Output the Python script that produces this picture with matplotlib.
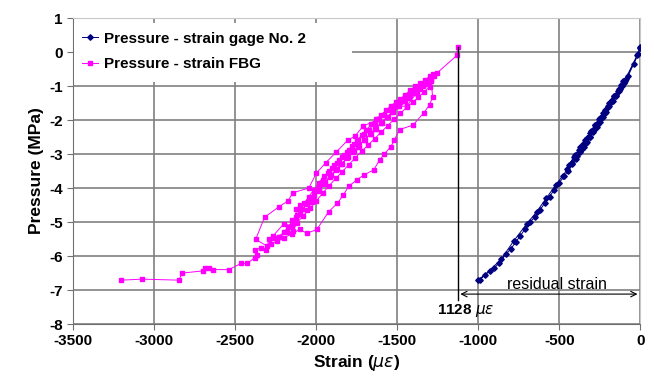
import matplotlib.pyplot as plt
from matplotlib.patches import Rectangle

plt.rcParams['font.family'] = ['Liberation Sans', 'DejaVu Sans']
plt.rcParams['mathtext.fontset'] = 'dejavusans'
plt.rcParams['axes.unicode_minus'] = False

# strain gage No. 2: (strain in micro-strain, pressure in MPa)
gage_points = [
    (0, 0.13), (-12, -0.05), (-40, -0.35), (-75, -0.70), (-95, -0.85), (-110, -1.00),
    (-130, -1.15), (-150, -1.30), (-170, -1.45), (-190, -1.60), (-210, -1.75), (-230, -1.90),
    (-250, -2.05), (-270, -2.20), (-290, -2.35), (-310, -2.50), (-330, -2.65), (-350, -2.80),
    (-370, -2.95), (-395, -3.15), (-420, -3.30), (-445, -3.50), (-470, -3.65), (-500, -3.85),
    (-530, -4.05), (-560, -4.25), (-590, -4.45), (-620, -4.65), (-650, -4.85), (-680, -5.00),
    (-710, -5.20), (-740, -5.40), (-770, -5.60), (-800, -5.80), (-830, -5.95), (-870, -6.20),
    (-900, -6.35), (-930, -6.45), (-960, -6.55), (-1004, -6.72),
    (-990, -6.70), (-860, -6.10), (-780, -5.55), (-700, -5.05), (-640, -4.70), (-580, -4.30),
    (-520, -3.90), (-480, -3.65), (-450, -3.45), (-420, -3.25), (-390, -3.05), (-360, -2.85),
    (-335, -2.68), (-310, -2.50), (-285, -2.30), (-260, -2.12), (-240, -1.95), (-220, -1.80),
    (-200, -1.62), (-180, -1.47), (-160, -1.30), (-140, -1.15), (-120, -0.98), (-105, -0.85),
    (-90, -0.80),
    (-100, -0.92), (-125, -1.08), (-150, -1.25), (-175, -1.42), (-200, -1.58), (-228, -1.78),
    (-255, -1.97), (-280, -2.15), (-305, -2.33), (-330, -2.52), (-355, -2.70), (-380, -2.88),
    (-410, -3.10), (-440, -3.32), (-400, -3.02), (-370, -2.80), (-340, -2.58), (-310, -2.37),
    (-280, -2.15), (-250, -1.93), (-220, -1.72), (-190, -1.50), (-160, -1.28), (-130, -1.08),
    (-100, -0.88), (-20, -0.10), (0, 0.15),
]

# FBG: (strain in micro-strain, pressure in MPa)
fbg_points = [
    # first descent
    (-1128, 0.15), (-1132, -0.10), (-1255, -0.62), (-1275, -0.70), (-1300, -0.85),
    (-1330, -0.95), (-1360, -1.05), (-1390, -1.12), (-1420, -1.25), (-1450, -1.35),
    (-1480, -1.48), (-1510, -1.60), (-1545, -1.72), (-1580, -1.85), (-1610, -1.98),
    (-1640, -2.12), (-1675, -2.28), (-1705, -2.42), (-1740, -2.58), (-1770, -2.72),
    (-1800, -2.88), (-1830, -3.02), (-1860, -3.18), (-1890, -3.32), (-1920, -3.50),
    (-1950, -3.65), (-1985, -3.85), (-2015, -4.05), (-2045, -4.25), (-2075, -4.45),
    (-2100, -4.65), (-2125, -4.85), (-2150, -5.00), (-2175, -5.15), (-2200, -5.30),
    (-2233, -5.43), (-2263, -5.48), (-2303, -5.71), (-2374, -5.51),
    # outer left branch going up
    (-2319, -4.86), (-2230, -4.55), (-2175, -4.38), (-2144, -4.14), (-2046, -4.00),
    (-2000, -3.57), (-1940, -3.25), (-1878, -2.95), (-1807, -2.60), (-1760, -2.47),
    (-1711, -2.18), (-1616, -1.98), (-1521, -1.61), (-1441, -1.59), (-1380, -1.20),
    (-1320, -0.95), (-1290, -0.85),
    # outer right branch going down
    (-1282, -1.32), (-1300, -1.55), (-1338, -1.80), (-1403, -2.15), (-1485, -2.28),
    (-1520, -2.60), (-1539, -2.78), (-1580, -3.00), (-1609, -3.18), (-1646, -3.47),
    (-1708, -3.62), (-1749, -3.76), (-1800, -3.95), (-1832, -4.20), (-1870, -4.45),
    (-1924, -4.70), (-1996, -5.22), (-2058, -5.33), (-2103, -5.22), (-2150, -5.35),
    (-2200, -5.46), (-2240, -5.55), (-2280, -5.65),
    # back up the band
    (-2265, -5.40), (-2200, -5.05), (-2149, -5.12), (-2128, -4.98), (-2123, -4.63),
    (-2100, -4.50), (-2058, -4.65), (-2027, -4.40), (-1990, -4.10), (-1960, -3.75),
    (-1930, -3.55), (-1900, -3.40), (-1870, -3.25), (-1840, -3.10), (-1810, -2.95),
    (-1780, -2.75), (-1750, -2.62), (-1720, -2.45), (-1690, -2.30), (-1660, -2.12),
    (-1630, -1.98), (-1600, -1.85), (-1570, -1.72), (-1540, -1.58), (-1510, -1.48),
    (-1480, -1.38), (-1450, -1.25), (-1420, -1.12), (-1390, -1.00), (-1360, -0.92),
    (-1330, -0.82), (-1300, -0.72), (-1280, -0.65),
    # inner descent
    (-1310, -0.88), (-1340, -1.00), (-1365, -1.10), (-1395, -1.22), (-1425, -1.35),
    (-1455, -1.45), (-1490, -1.60), (-1525, -1.75), (-1560, -1.92), (-1595, -2.08),
    (-1630, -2.25), (-1665, -2.40), (-1700, -2.58), (-1735, -2.75), (-1770, -2.92),
    (-1805, -3.10), (-1840, -3.28), (-1875, -3.45), (-1910, -3.62), (-1945, -3.82),
    (-1980, -4.00), (-2015, -4.20), (-2050, -4.40), (-2085, -4.62), (-2120, -4.80),
    (-2150, -4.95),
    # inner ascent
    (-2100, -4.75), (-2060, -4.48), (-2020, -4.28), (-1985, -4.05), (-1950, -3.88),
    (-1915, -3.68), (-1880, -3.48), (-1845, -3.30), (-1810, -3.12), (-1775, -2.95),
    (-1740, -2.78), (-1705, -2.60), (-1670, -2.42), (-1635, -2.25), (-1600, -2.08),
    (-1565, -1.92), (-1530, -1.76), (-1495, -1.60), (-1460, -1.45), (-1425, -1.30),
    (-1395, -1.18), (-1365, -1.05), (-1335, -0.95), (-1310, -0.85), (-1290, -0.78),
    # last descent and tail
    (-1300, -1.02), (-1335, -1.18), (-1370, -1.33), (-1405, -1.48), (-1440, -1.62),
    (-1480, -1.80), (-1520, -1.98), (-1560, -2.17), (-1600, -2.36), (-1640, -2.55),
    (-1680, -2.74), (-1720, -2.92), (-1760, -3.12), (-1800, -3.32), (-1840, -3.52),
    (-1880, -3.72), (-1920, -3.93), (-1960, -4.15), (-2000, -4.38), (-2040, -4.60),
    (-2080, -4.82), (-2120, -5.02), (-2141, -5.25), (-2180, -5.30), (-2230, -5.45),
    (-2290, -5.50), (-2309, -5.82), (-2340, -5.75), (-2380, -5.82), (-2366, -5.97),
    (-2380, -6.05), (-2427, -6.22), (-2465, -6.22), (-2540, -6.40), (-2640, -6.40),
    (-2660, -6.36), (-2689, -6.35), (-2702, -6.44), (-2826, -6.50), (-2849, -6.71),
    (-3075, -6.68), (-3204, -6.71),
]

residual = -1128

gage_strain, gage_pressure = zip(*gage_points)
fbg_strain, fbg_pressure = zip(*fbg_points)

fig, ax = plt.subplots(figsize=(6.54, 3.83), dpi=100)
fig.subplots_adjust(left=0.112, right=0.979, top=0.953, bottom=0.154)

ax.plot(gage_strain, gage_pressure, color='#000080', lw=0.7, marker='D', ms=2.8,
        label='Pressure - strain gage No. 2', zorder=4)
ax.plot(fbg_strain, fbg_pressure, color='#ff00ff', lw=0.7, marker='s', ms=3.0,
        label='Pressure - strain FBG', zorder=4)

ax.set_xlim(-3500, 0)
ax.set_ylim(-8, 1)
ax.set_xticks(range(-3500, 1, 500))
ax.set_yticks(range(-8, 2, 1))
ax.grid(True, color='#808080', lw=1.2)
ax.set_axisbelow(True)
for s in ['top', 'right']:
    ax.spines[s].set_color('#c8c8c8')
for s in ['left', 'bottom']:
    ax.spines[s].set_color('#707070')
ax.tick_params(direction='out', length=4, color='#707070', labelsize=11)
for lab in ax.get_xticklabels() + ax.get_yticklabels():
    lab.set_fontweight('bold')

ax.set_xlabel(r'Strain ($\mu\varepsilon$)', fontsize=12.5, fontweight='bold', labelpad=3)
ax.set_ylabel('Pressure (MPa)', fontsize=12.5, fontweight='bold', labelpad=4)

# residual strain marking
ax.plot([residual, residual], [0.15, -7.3], color='black', lw=1, zorder=5)
ax.annotate('', xy=(residual, -7.12), xytext=(0, -7.12),
            arrowprops=dict(arrowstyle='<->', color='black', lw=0.8), zorder=5)
ax.text(-512, -6.85, 'residual strain', fontsize=11.5, ha='center', va='center', zorder=6)
ax.text(-1253, -7.6, r'1128 $\mu\varepsilon$', fontsize=11, fontweight='bold',
        ha='left', va='center')

# white box behind legend
ax.add_patch(Rectangle((0.002, 0.79), 0.49, 0.195, transform=ax.transAxes,
                       facecolor='white', edgecolor='none', zorder=3))
ax.legend(loc='upper left', bbox_to_anchor=(0.0, 0.985), frameon=False,
          prop={'weight': 'bold', 'size': 11}, handlelength=1.0, handletextpad=0.4,
          labelspacing=0.75, borderaxespad=0.2)

fig.savefig('out.png', dpi=100)
